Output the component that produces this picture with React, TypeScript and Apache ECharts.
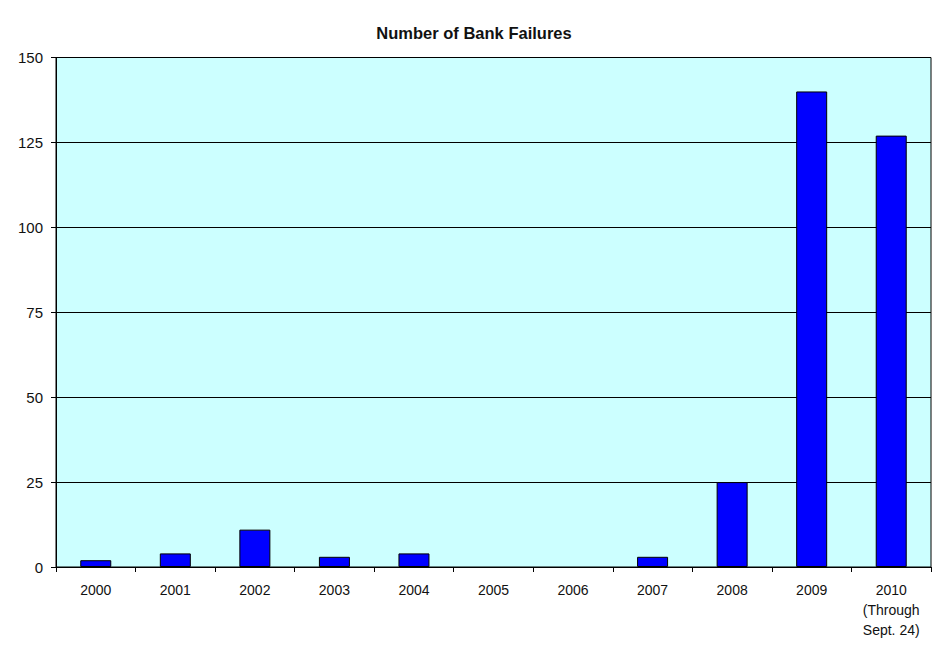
import React, { useEffect, useRef } from 'react';
import * as echarts from 'echarts';

const years = ['2000', '2001', '2002', '2003', '2004', '2005', '2006', '2007', '2008', '2009', '2010\n(Through\nSept. 24)'];
const failures = [2, 4, 11, 3, 4, 0, 0, 3, 25, 140, 127];
const yTicks = [0, 25, 50, 75, 100, 125, 150];

const App: React.FC = () => {
  const chartRef = useRef<HTMLDivElement>(null);

  useEffect(() => {
    if (!chartRef.current) return;
    const chart = echarts.init(chartRef.current, undefined, { renderer: 'svg' });

    // 零值的柱子不画边框
    const barData = failures.map(v => (v === 0 ? { value: v, itemStyle: { borderWidth: 0 } } : v));

    const option = {
      animation: false,
      backgroundColor: '#ffffff',
      textStyle: { fontFamily: 'Liberation Sans, Arial, sans-serif' },
      title: {
        text: 'Number of Bank Failures',
        left: 'center',
        top: 19,
        textStyle: { fontSize: 16.5, fontWeight: 'bold', color: '#111', fontFamily: 'Liberation Sans, Arial, sans-serif' }
      },
      grid: {
        left: 56,
        right: 17,
        top: 57.5,
        bottom: 80,
        show: true,
        backgroundColor: '#CCFFFF',
        borderColor: '#000',
        borderWidth: 1,
        containLabel: false
      },
      xAxis: {
        type: 'category',
        data: years,
        axisLine: { lineStyle: { color: '#000', width: 1 } },
        axisTick: { show: true, length: 5, inside: false, alignWithLabel: false, lineStyle: { color: '#000' } },
        axisLabel: { color: '#111', fontSize: 14, margin: 13, lineHeight: 20, interval: 0 },
        splitLine: { show: false }
      },
      yAxis: {
        type: 'value',
        min: yTicks[0],
        max: yTicks[yTicks.length - 1],
        interval: 25,
        axisLine: { show: true, lineStyle: { color: '#000', width: 1 } },
        axisTick: { show: true, length: 5, lineStyle: { color: '#000' } },
        axisLabel: { color: '#111', fontSize: 15, margin: 13 },
        splitLine: { show: true, lineStyle: { color: '#000', width: 1 } }
      },
      series: [
        {
          type: 'bar',
          data: barData,
          barWidth: 31,
          itemStyle: { color: '#0000FF', borderColor: '#000', borderWidth: 1 }
        }
      ]
    };

    chart.setOption(option);
    return () => {
      chart.dispose();
    };
  }, []);

  return <div ref={chartRef} style={{ position: 'fixed', left: 0, top: 0, width: 948, height: 647 }} />;
};

export default App;
